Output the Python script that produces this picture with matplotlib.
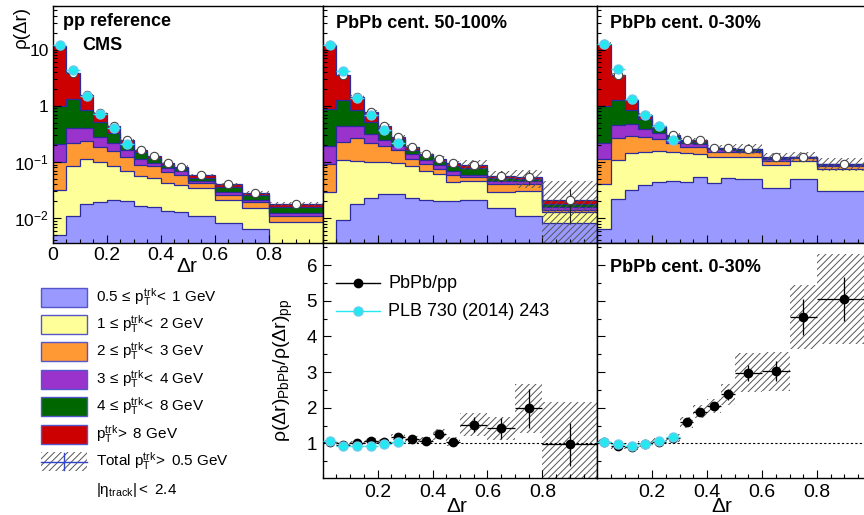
import numpy as np
import matplotlib.pyplot as plt
from matplotlib.patches import Rectangle
from matplotlib.ticker import FixedLocator, MultipleLocator, NullFormatter, LogLocator

plt.rcParams['font.family'] = ['Liberation Sans', 'DejaVu Sans']
plt.rcParams['mathtext.fontset'] = 'custom'
plt.rcParams['mathtext.rm'] = 'Liberation Sans'
plt.rcParams['mathtext.it'] = 'Liberation Sans:italic'
plt.rcParams['mathtext.bf'] = 'Liberation Sans:bold'
plt.rcParams['hatch.linewidth'] = 0.7

# bins in delta r
edges = np.array([0.0, 0.05, 0.1, 0.15, 0.2, 0.25, 0.3, 0.35, 0.4, 0.45, 0.5, 0.6, 0.7, 0.8, 1.0])

# pp reference: contribution of each track pT bin
pp_05to1 = [0.0048, 0.011, 0.018, 0.019, 0.0205, 0.020, 0.0164, 0.0155, 0.0133, 0.0126, 0.0106, 0.008, 0.0063, 0.003]
pp_1to2 = [0.027, 0.074, 0.094, 0.081, 0.065, 0.050, 0.039, 0.036, 0.029, 0.026, 0.024, 0.013, 0.0087, 0.0055]
pp_2to3 = [0.067, 0.135, 0.128, 0.088, 0.073, 0.054, 0.034, 0.032, 0.025, 0.020, 0.007, 0.005, 0.004, 0.0025]
pp_3to4 = [0.111, 0.19, 0.17, 0.092, 0.057, 0.040, 0.023, 0.012, 0.011, 0.011, 0.004, 0.003, 0.002, 0.001]
pp_4to8 = [0.79, 0.91, 0.44, 0.245, 0.119, 0.056, 0.035, 0.021, 0.011, 0.008, 0.007, 0.007, 0.005, 0.0039]
pp_8up = [10.8, 2.48, 0.68, 0.215, 0.096, 0.027, 0.017, 0.012, 0.006, 0.005, 0.006, 0.004, 0.002, 0.0021]
pp_sys = [0.04, 0.04, 0.04, 0.04, 0.04, 0.05, 0.05, 0.05, 0.05, 0.05, 0.06, 0.06, 0.07, 0.08]
pp_plb = [12.3, 4.4, 1.5, 0.72, 0.40, 0.21]

# PbPb 50-100%
mid_05to1 = [0.003, 0.0092, 0.0178, 0.023, 0.027, 0.027, 0.023, 0.021, 0.020, 0.020, 0.021, 0.0148, 0.011, 0.0081]
mid_1to2 = [0.0266, 0.0998, 0.0882, 0.077, 0.073, 0.067, 0.060, 0.049, 0.040, 0.023, 0.024, 0.0142, 0.019, 0.0048]
mid_2to3 = [0.0614, 0.115, 0.159, 0.115, 0.09, 0.07, 0.029, 0.023, 0.015, 0.016, 0.008, 0.012, 0.011, 0.0009]
mid_3to4 = [0.102, 0.216, 0.165, 0.101, 0.057, 0.029, 0.026, 0.016, 0.014, 0.011, 0.006, 0.004, 0.004, 0.0016]
mid_4to8 = [0.677, 0.84, 0.42, 0.194, 0.118, 0.067, 0.026, 0.022, 0.016, 0.015, 0.019, 0.006, 0.004, 0.0026]
mid_8up = [11.43, 2.32, 0.58, 0.26, 0.075, 0.02, 0.019, 0.008, 0.007, 0.009, 0.011, 0.005, 0.004, 0.0025]
mid_plb = [12.3, 4.2, 1.37, 0.69, 0.37, 0.22]

# PbPb 0-30%
cen_05to1 = [0.0062, 0.0215, 0.032, 0.039, 0.043, 0.045, 0.043, 0.053, 0.042, 0.051, 0.049, 0.034, 0.049, 0.030]
cen_1to2 = [0.0348, 0.0875, 0.111, 0.114, 0.115, 0.103, 0.100, 0.086, 0.078, 0.073, 0.072, 0.055, 0.056, 0.044]
cen_2to3 = [0.071, 0.156, 0.147, 0.122, 0.096, 0.072, 0.045, 0.049, 0.033, 0.029, 0.028, 0.017, 0.011, 0.012]
cen_3to4 = [0.103, 0.195, 0.18, 0.115, 0.071, 0.027, 0.027, 0.022, 0.017, 0.011, 0.009, 0.007, 0.004, 0.002]
cen_4to8 = [0.765, 0.82, 0.38, 0.19, 0.075, 0.043, 0.022, 0.020, 0.006, 0.012, 0.012, 0.004, 0.004, 0.003]
cen_8up = [11.82, 2.32, 0.43, 0.11, 0.03, 0.01, 0.01, 0.017, 0.004, 0.004, 0.003, 0.003, 0.0005, 0.001]
cen_plb = [12.8, 4.5, 1.3, 0.70, 0.44, 0.25]

# ratios PbPb/pp
ratio_mid = [1.05, 0.96, 1.00, 1.07, 1.03, 1.17, 1.11, 1.07, 1.25, 1.05, 1.53, 1.42, 1.98, 0.98]
stat_mid = [0.03, 0.03, 0.03, 0.04, 0.04, 0.04, 0.05, 0.06, 0.10, 0.08, 0.22, 0.30, 0.55, 0.60]
sys_mid = [0.07, 0.07, 0.07, 0.08, 0.08, 0.08, 0.09, 0.10, 0.15, 0.12, 0.32, 0.32, 0.68, 1.18]
plb_ratio_mid = [1.06, 0.93, 0.93, 0.94, 0.98, 1.04]

ratio_cen = [1.05, 0.92, 0.89, 0.98, 1.05, 1.15, 1.59, 1.89, 2.05, 2.38, 2.98, 3.02, 4.55, 5.05]
stat_cen = [0.03, 0.03, 0.03, 0.04, 0.04, 0.05, 0.07, 0.08, 0.10, 0.15, 0.22, 0.28, 0.50, 0.62]
sys_cen = [0.08, 0.08, 0.08, 0.08, 0.09, 0.10, 0.15, 0.18, 0.20, 0.30, 0.55, 0.55, 0.90, 1.27]
plb_ratio_cen = [1.05, 0.97, 0.94, 0.98, 1.08, 1.18]

layer_colors = ['#9999ff', '#ffff99', '#ff9933', '#9933cc', '#006600', '#cc0000']
ptl = r'\mathrm{p}_{\mathrm{T}}^{\mathrm{trk}}'
layer_labels = [r'$0.5\,\leq\,' + ptl + r'\!<\ 1$ GeV',
                r'$1\,\leq\,' + ptl + r'\!<\ 2$ GeV',
                r'$2\,\leq\,' + ptl + r'\!<\ 3$ GeV',
                r'$3\,\leq\,' + ptl + r'\!<\ 4$ GeV',
                r'$4\,\leq\,' + ptl + r'\!<\ 8$ GeV',
                r'$' + ptl + r'\!>\ 8$ GeV']
edge_col = '#2b2b9b'
cyan = '#22e8f0'

centers = (edges[1:] + edges[:-1]) / 2
halfw = (edges[1:] - edges[:-1]) / 2

W, H = 864, 515
fig = plt.figure(figsize=(W / 100, H / 100), dpi=100)


def pos(x0, y0, x1, y1):
    return [x0 / W, 1 - y1 / H, (x1 - x0) / W, (y1 - y0) / H]


def style(ax):
    for s in ax.spines.values():
        s.set_linewidth(1.0)
    ax.tick_params(which='both', direction='in', top=False, right=False)
    ax.tick_params(which='major', length=6, width=0.8)
    ax.tick_params(which='minor', length=3, width=0.8)


def draw_top(ax, layers, plb, rel_sys, rel_stat):
    base = np.full(len(centers), 1e-4)
    for vals, col in zip(layers, layer_colors):
        top = base + np.array(vals)
        ax.stairs(top, edges, baseline=base, fill=True, color=col, lw=0, zorder=1)
        ax.stairs(top, edges, baseline=None, color=edge_col, lw=0.9, zorder=1.5)
        base = top
    total = base
    lo = np.clip(total * (1 - np.array(rel_sys)), 1e-4, None)
    hi = total * (1 + np.array(rel_sys))
    ax.bar(centers, hi - lo, bottom=lo, width=2 * halfw, fill=False, hatch='/////',
           edgecolor='#555555', lw=0, zorder=2)
    ax.errorbar(centers, total, yerr=total * np.array(rel_stat), fmt='o', ms=6,
                mfc='white', mec='#444444', mew=0.8, ecolor='#222222', elinewidth=0.8, zorder=3)
    n = len(plb)
    ax.errorbar(centers[:n], plb, xerr=halfw[:n], fmt='o', ms=6.5, color=cyan,
                mec='#66ccee', elinewidth=1.0, zorder=4)
    ax.set_yscale('log')
    ax.set_xlim(0, 1)
    ax.set_ylim(0.0036, 60)
    ax.xaxis.set_major_locator(MultipleLocator(0.2))
    ax.xaxis.set_minor_locator(MultipleLocator(0.05))
    ax.yaxis.set_major_locator(FixedLocator([0.01, 0.1, 1, 10]))
    ax.yaxis.set_minor_locator(LogLocator(base=10, subs=np.arange(2, 10)))
    ax.yaxis.set_minor_formatter(NullFormatter())
    style(ax)


def draw_ratio(ax, ratio, stat, sys, plb):
    ax.bar(centers, 2 * np.array(sys), bottom=np.array(ratio) - np.array(sys), width=2 * halfw,
           fill=False, hatch='/////', edgecolor='#555555', lw=0, zorder=1)
    ax.axhline(1, color='k', lw=0.8, ls=(0, (2, 2)), zorder=2)
    ax.errorbar(centers, ratio, xerr=halfw, yerr=stat, fmt='o', ms=6, color='black',
                elinewidth=0.9, zorder=3)
    n = len(plb)
    ax.errorbar(centers[:n], plb, xerr=halfw[:n], fmt='o', ms=6.5, color=cyan,
                mec='#66ccee', elinewidth=1.0, zorder=4)
    ax.set_xlim(0, 1)
    ax.set_ylim(0.03, 6.62)
    ax.xaxis.set_major_locator(FixedLocator([0.2, 0.4, 0.6, 0.8]))
    ax.xaxis.set_minor_locator(MultipleLocator(0.05))
    ax.yaxis.set_major_locator(MultipleLocator(1))
    ax.yaxis.set_minor_locator(MultipleLocator(0.5))
    style(ax)
    ax.tick_params(axis='x', labelsize=14, pad=4)


pp_rel_stat = [0.01] * len(centers)
mid_rel_sys = np.array(sys_mid) / np.array(ratio_mid)
mid_rel_stat = np.array(stat_mid) / np.array(ratio_mid)
cen_rel_sys = np.array(sys_cen) / np.array(ratio_cen)
cen_rel_stat = np.array(stat_cen) / np.array(ratio_cen)

ax_pp = fig.add_axes(pos(53, 6, 322.7, 243))
draw_top(ax_pp, [pp_05to1, pp_1to2, pp_2to3, pp_3to4, pp_4to8, pp_8up], pp_plb, pp_sys, pp_rel_stat)
ax_pp.set_xticks([0, 0.2, 0.4, 0.6, 0.8])
ax_pp.set_xticklabels(['0', '0.2', '0.4', '0.6', '0.8'])
ax_pp.set_yticklabels(['$10^{-2}$', '$10^{-1}$', '1', '10'])
ax_pp.tick_params(axis='x', labelsize=14, pad=3)
ax_pp.tick_params(axis='y', labelsize=12.5, pad=3)

ax_mid = fig.add_axes(pos(322.7, 6, 597.3, 243))
draw_top(ax_mid, [mid_05to1, mid_1to2, mid_2to3, mid_3to4, mid_4to8, mid_8up], mid_plb,
         mid_rel_sys, mid_rel_stat)
ax_mid.tick_params(labelleft=False, labelbottom=False)

ax_cen = fig.add_axes(pos(597.3, 6, 871.9, 243))
draw_top(ax_cen, [cen_05to1, cen_1to2, cen_2to3, cen_3to4, cen_4to8, cen_8up], cen_plb,
         cen_rel_sys, cen_rel_stat)
ax_cen.tick_params(labelleft=False, labelbottom=False)

r_mid = fig.add_axes(pos(322.7, 243, 597.3, 478))
draw_ratio(r_mid, ratio_mid, stat_mid, sys_mid, plb_ratio_mid)
r_mid.tick_params(axis='y', labelsize=13.5, pad=4)

r_cen = fig.add_axes(pos(597.3, 243, 871.9, 478))
draw_ratio(r_cen, ratio_cen, stat_cen, sys_cen, plb_ratio_cen)
r_cen.tick_params(labelleft=False)

# overlay in pixel coordinates for texts and the legends
ov = fig.add_axes([0, 0, 1, 1])
ov.set_xlim(0, W)
ov.set_ylim(H, 0)
ov.axis('off')
ov.patch.set_alpha(0)

ov.text(63, 22, 'pp reference', fontsize=13, fontweight='bold', va='center')
ov.text(82, 46, 'CMS', fontsize=13, fontweight='bold', va='center')
ov.text(336, 23, 'PbPb cent. 50-100%', fontsize=13, fontweight='bold', va='center')
ov.text(610, 23, 'PbPb cent. 0-30%', fontsize=13, fontweight='bold', va='center')
ov.text(610, 268, 'PbPb cent. 0-30%', fontsize=13, fontweight='bold', va='center')

ov.text(21, 27, 'ρ(Δr)', fontsize=13.5, rotation=90, ha='center', va='center')
ov.text(187, 267, 'Δr', fontsize=15, ha='center', va='center')
ov.text(457, 507, 'Δr', fontsize=15, ha='center', va='center')
ov.text(722, 507, 'Δr', fontsize=15, ha='center', va='center')
ov.text(283, 370, r'$\mathrm{ρ(Δr)}_{\mathrm{PbPb}}/\mathrm{ρ(Δr)}_{\mathrm{pp}}$', fontsize=14,
        rotation=90, ha='center', va='center')

# pT legend
row_y = [297, 324, 351.5, 379, 406.5, 434]
for y, col, lab in zip(row_y, layer_colors, layer_labels):
    ov.add_patch(Rectangle((41, y - 9.5), 46, 19, facecolor=col, edgecolor='#5555cc', lw=1))
    ov.text(96.5, y, lab, fontsize=11, va='center')
ov.add_patch(Rectangle((41, 452), 46, 19, fill=False, hatch='/////', edgecolor='#555555', lw=0))
ov.plot([41, 87], [461.5, 461.5], color='#3344cc', lw=1)
ov.plot([64, 64], [453, 470], color='#3344cc', lw=1)
ov.text(96.5, 461.5, r'Total $' + ptl + r'\!>\ 0.5$ GeV', fontsize=11, va='center')
ov.text(96.5, 490, r'$|\mathrm{η}_{\mathrm{track}}|<\ 2.4$', fontsize=11, va='center')

# ratio legend
ov.plot([336, 380], [283, 283], color='black', lw=1)
ov.plot([358], [283], 'o', color='black', ms=6)
ov.text(388, 283, 'PbPb/pp', fontsize=13, va='center')
ov.plot([336, 380], [311, 311], color=cyan, lw=1)
ov.plot([358], [311], 'o', color=cyan, mec='#66ccee', ms=6.5)
ov.text(388, 311, 'PLB 730 (2014) 243', fontsize=13, va='center')

fig.savefig('out.png', dpi=100)
